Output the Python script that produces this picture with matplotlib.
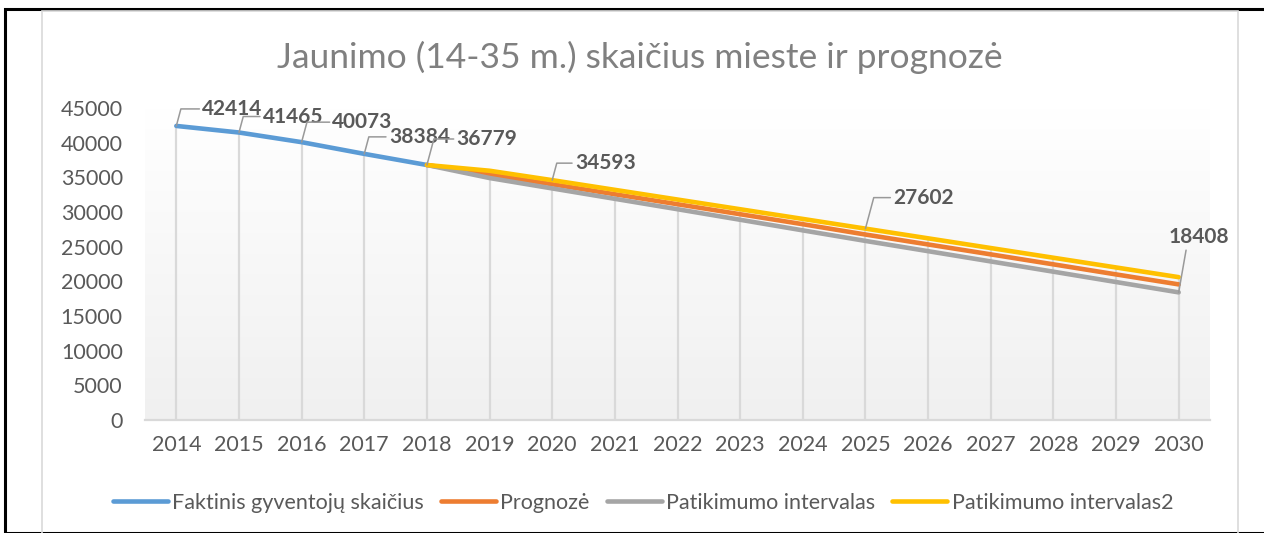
import numpy as np
import matplotlib.pyplot as plt
from matplotlib.patches import Rectangle
from matplotlib.lines import Line2D
from matplotlib.colors import LinearSegmentedColormap

years = list(range(2014, 2031))
actual = [42414, 41465, 40073, 38384, 36779]
forecast = [36779, 35400, 34000, 32560, 31120, 29680, 28240, 26750, 25320, 23890, 22450, 21000, 19560]
lower = [36779, 34900, 33400, 31900, 30400, 28880, 27350, 25830, 24350, 22870, 21390, 19900, 18408]
upper = [36779, 35950, 34593, 33195, 31797, 30399, 29001, 27602, 26202, 24802, 23402, 22002, 20602]

names = ['Faktinis gyventojų skaičius', 'Prognozė', 'Patikimumo intervalas', 'Patikimumo intervalas2']
colors = ['#5b9bd5', '#ed7d31', '#a5a5a5', '#ffc000']

# data labels: (series, year index, offset in pixels)
labels = [
    ('actual', 0, (56, 17)),
    ('actual', 1, (54, 16)),
    ('actual', 2, (61, 20)),
    ('actual', 3, (55, 17)),
    ('actual', 4, (60, 26)),
    ('upper', 6, (53, 17)),
    ('upper', 11, (58, 31)),
    ('lower', 16, (20, 55)),
]

plt.rcParams['font.family'] = ['Lato', 'DejaVu Sans']

fig = plt.figure(figsize=(12.64, 5.33), dpi=100)
W, H = 1264, 533

# outer frame
fig.patches.append(Rectangle((5 / W, 0), 1.2, (H - 9) / H, transform=fig.transFigure,
                             fill=False, edgecolor='black', linewidth=2.2))
fig.patches.append(Rectangle((42 / W, -0.05), (1238 - 42) / W, (H - 11) / H + 0.05,
                             transform=fig.transFigure, fill=False, edgecolor='#d9d9d9', linewidth=1.2))

ax = fig.add_axes([145 / W, (H - 420) / H, 1065 / W, 312 / H])

# plot area gradient
grad = np.linspace(0, 1, 256).reshape(-1, 1)
ax.imshow(grad, extent=(0, 1, 0, 1), transform=ax.transAxes, aspect='auto',
          cmap=LinearSegmentedColormap.from_list('g', ['#f0f0f0', '#ffffff']),
          origin='lower', zorder=0)

x_all = np.arange(len(years))
x_act = x_all[:len(actual)]
x_fc = x_all[len(actual) - 1:]

# drop lines
tops = list(actual[:-1]) + [max(u, f, l) for u, f, l in zip(upper, forecast, lower)]
ax.vlines(x_all, 0, tops, color='#d9d9d9', linewidth=1.6, zorder=1)

lw = 3.3
ax.plot(x_act, actual, color=colors[0], linewidth=lw, solid_capstyle='round', zorder=3)
ax.plot(x_fc, forecast, color=colors[1], linewidth=lw, solid_capstyle='round', zorder=3)
ax.plot(x_fc, lower, color=colors[2], linewidth=lw, solid_capstyle='round', zorder=3)
ax.plot(x_fc, upper, color=colors[3], linewidth=lw, solid_capstyle='round', zorder=4)

series = {'actual': actual, 'upper': [None] * 4 + upper, 'lower': [None] * 4 + lower}
for name, idx, (dx, dy) in labels:
    v = series[name][idx]
    if name == 'lower':
        conn = 'arc3'
        rel = (0.3, 0.0)
    else:
        conn = 'angle,angleA=0,angleB=75,rad=0'
        rel = (0.0, 0.5)
    ax.annotate(str(v), xy=(x_all[idx], v), xytext=(dx, dy), textcoords='offset pixels',
                ha='center', va='center', fontsize=15, fontweight='bold', color='#595959',
                arrowprops=dict(arrowstyle='-', color='#999999', linewidth=1.1,
                                connectionstyle=conn, relpos=rel, shrinkA=0, shrinkB=0),
                zorder=6)

ax.set_xlim(-0.5, len(years) - 0.5)
ax.set_ylim(0, 45000)
ax.set_yticks(range(0, 45001, 5000))
ax.set_xticks(x_all)
ax.set_xticklabels([str(y) for y in years])
ax.tick_params(axis='both', length=0, labelsize=15.5, labelcolor='#595959')
ax.tick_params(axis='x', pad=11)
ax.tick_params(axis='y', pad=16)
for s in ['top', 'right', 'left']:
    ax.spines[s].set_visible(False)
ax.spines['bottom'].set_color('#d9d9d9')
ax.spines['bottom'].set_linewidth(1.6)

fig.text(640 / W, 1 - 57 / H, 'Jaunimo (14-35 m.) skaičius mieste ir prognozė',
         ha='center', va='center', fontsize=25.5, color='#808080')

handles = [Line2D([], [], color=c, linewidth=3.3, solid_capstyle='round') for c in colors]
fig.legend(handles, names, loc='center', bbox_to_anchor=(643 / W, 1 - 503 / H), ncol=4,
           frameon=False, fontsize=15.5, labelcolor='#595959', handlelength=2.55,
           handletextpad=0.2, columnspacing=0.8)

fig.savefig('out.png', dpi=100)
